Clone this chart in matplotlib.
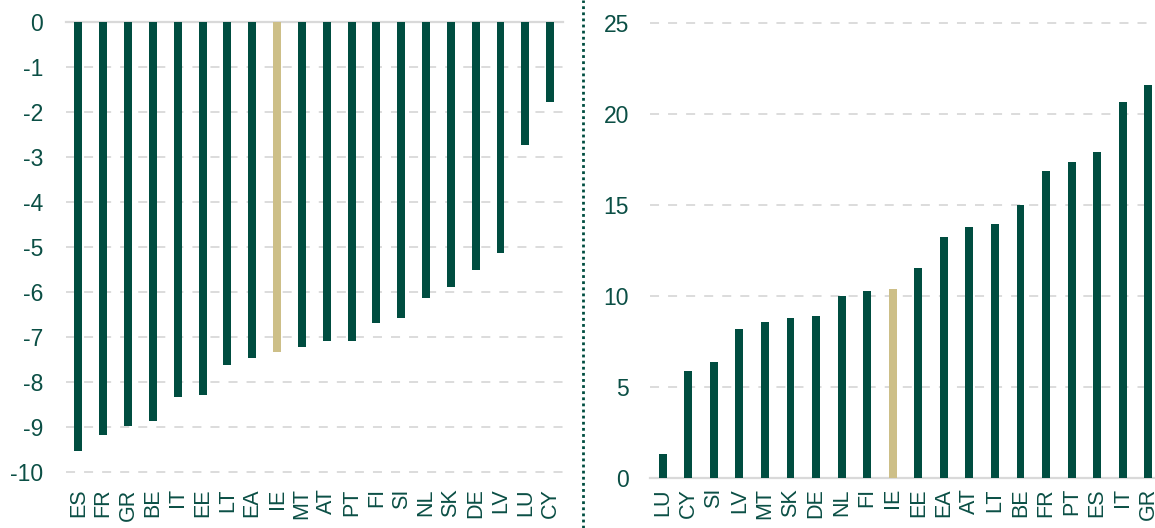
import matplotlib
matplotlib.use("Agg")
import matplotlib.pyplot as plt
from matplotlib.lines import Line2D

plt.rcParams['font.family'] = ['Liberation Sans', 'DejaVu Sans']
plt.rcParams['axes.unicode_minus'] = False

# Left panel data
left_countries = ["ES", "FR", "GR", "BE", "IT", "EE", "LT", "EA", "IE", "MT",
                  "AT", "PT", "FI", "SI", "NL", "SK", "DE", "LV", "LU", "CY"]
left_values = [-9.53, -9.18, -8.99, -8.88, -8.35, -8.30, -7.63, -7.47, -7.35, -7.22,
               -7.09, -7.09, -6.70, -6.58, -6.15, -5.90, -5.51, -5.15, -2.75, -1.79]
left_ticks = [0, -1, -2, -3, -4, -5, -6, -7, -8, -9, -10]

# Right panel data
right_countries = ["LU", "CY", "SI", "LV", "MT", "SK", "DE", "NL", "FI", "IE",
                   "EE", "EA", "AT", "LT", "BE", "FR", "PT", "ES", "IT", "GR"]
right_values = [1.36, 5.88, 6.38, 8.19, 8.58, 8.80, 8.90, 9.99, 10.28, 10.38,
                11.57, 13.28, 13.79, 14.00, 15.00, 16.89, 17.39, 17.91, 20.70, 21.60]
right_ticks = [0, 5, 10, 15, 20, 25]

highlight = "IE"
GREEN = "#004d40"
TAN = "#cdbf88"
TXT = "#0b4f45"
GRID = "#d9d9d9"

W, H = 1155, 528
fig = plt.figure(figsize=(W / 100, H / 100), dpi=100)

def pos(x0, x1, ytop, ybot):
    return [x0 / W, 1 - ybot / H, (x1 - x0) / W, (ybot - ytop) / H]

ax1 = fig.add_axes(pos(66, 562.6, 21.7, 471.7))
ax2 = fig.add_axes(pos(650, 1161, 23.3, 478.3))

def style(ax, countries, values, ticks, ylim, solid_val, xpad, ypad, width):
    colors = [TAN if c == highlight else GREEN for c in countries]
    x = range(len(countries))
    ax.bar(x, values, width=width, color=colors, zorder=3)
    ax.set_xlim(-0.5, len(countries) - 0.5)
    ax.set_ylim(*ylim)
    ax.set_yticks(ticks)
    ax.set_yticklabels([str(t) for t in ticks])
    ax.set_xticks(list(x))
    ax.set_xticklabels(countries, rotation=90, va='top', ha='center')
    for t in ticks:
        if t == solid_val:
            ax.axhline(t, color=GRID, lw=1.6, zorder=2, clip_on=False)
        else:
            ax.axhline(t, color=GRID, lw=1.3, ls=(0, (5, 5)), zorder=1, clip_on=False)
    for s in ax.spines.values():
        s.set_visible(False)
    ax.tick_params(axis='y', length=0, pad=ypad, labelsize=16.5, labelcolor=TXT)
    ax.tick_params(axis='x', length=0, pad=xpad, labelsize=15.5, labelcolor=TXT)
    ax.set_facecolor('none')

style(ax1, left_countries, left_values, left_ticks, (-10, 0), 0, 12, 16.5, 0.32)
style(ax2, right_countries, right_values, right_ticks, (0, 25), 0, 7, 15, 0.31)

# dotted separator
fig.add_artist(Line2D([583 / W, 583 / W], [0, 1], transform=fig.transFigure,
                      color=GREEN, lw=2.0, ls=(0, (1, 1.2))))

fig.savefig("out.png", dpi=100)
